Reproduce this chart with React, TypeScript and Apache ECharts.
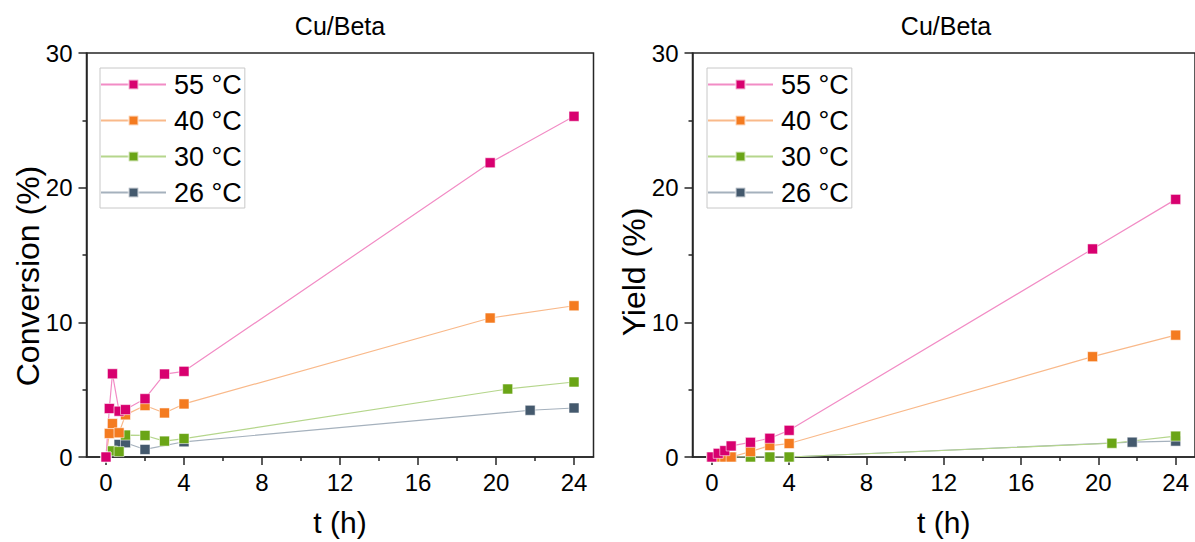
import React, { useEffect, useRef } from "react";
import * as echarts from "echarts";

// ---------- Data ----------
const seriesNames = ["55 °C", "40 °C", "30 °C", "26 °C"];
const markerColors = ["#d8006f", "#f47b20", "#6aa516", "#44596d"];
const lineColors = ["#f28cc5", "#f9b98a", "#b5d68c", "#a5b1bd"];

const xMajorTicks = [0, 4, 8, 12, 16, 20, 24];
const xMinorTicks = [2, 6, 10, 14, 18, 22];

// Conversion (%) vs t (h)
const conv55: [number, number][] = [[0, 0], [0.17, 3.6], [0.33, 6.18], [0.67, 3.4], [1, 3.52], [2, 4.33], [3, 6.16], [4, 6.36], [19.7, 21.85], [24, 25.3]];
const conv40: [number, number][] = [[0, 0], [0.17, 1.75], [0.33, 2.48], [0.67, 1.8], [1, 3.13], [2, 3.82], [3, 3.27], [4, 3.94], [19.7, 10.32], [24, 11.23]];
const conv30: [number, number][] = [[0, 0], [0.33, 0.45], [0.67, 0.4], [1, 1.63], [2, 1.6], [3, 1.18], [4, 1.37], [20.6, 5.05], [24, 5.57]];
const conv26: [number, number][] = [[0, 0], [0.67, 0.93], [1, 1.06], [2, 0.56], [4, 1.13], [21.75, 3.47], [24, 3.64]];

// Yield (%) vs t (h)
const yield55: [number, number][] = [[0, 0], [0.33, 0.27], [0.67, 0.47], [1, 0.82], [2, 1.09], [3, 1.39], [4, 1.98], [19.7, 15.45], [24, 19.13]];
const yield40: [number, number][] = [[0, 0], [0.33, 0], [0.67, 0], [1, 0], [2, 0.4], [3, 0.85], [4, 1.0], [19.7, 7.45], [24, 9.05]];
const yield30: [number, number][] = [[0, 0], [1, 0], [2, 0], [3, 0], [4, 0], [20.7, 1.02], [24, 1.55]];
const yield26: [number, number][] = [[0, 0], [1, 0], [2, 0], [3, 0], [4, 0], [21.75, 1.1], [24, 1.18]];

const convData = [conv55, conv40, conv30, conv26];
const yieldData = [yield55, yield40, yield30, yield26];

const FONT = "'Liberation Sans', Arial, sans-serif";
const AXIS_COLOR = "#262626";

function xAxes(gridIndex: number) {
  return [
    {
      type: "value",
      gridIndex,
      min: -1,
      max: 25,
      position: "bottom",
      axisLine: { show: true, onZero: false, lineStyle: { color: AXIS_COLOR, width: 1.5 } },
      axisTick: { show: true, inside: false, length: 8, customValues: xMajorTicks, lineStyle: { color: AXIS_COLOR, width: 1.5 } },
      axisLabel: { show: true, customValues: xMajorTicks, fontSize: 24, margin: 13, color: "#000", fontFamily: FONT },
      splitLine: { show: false },
      name: "t (h)",
      nameLocation: "middle",
      nameGap: 50,
      nameTextStyle: { fontSize: 30, color: "#000", fontFamily: FONT },
    },
    {
      type: "value",
      gridIndex,
      min: -1,
      max: 25,
      position: "bottom",
      axisLine: { show: false, onZero: false },
      axisTick: { show: true, inside: false, length: 4, customValues: xMinorTicks, lineStyle: { color: AXIS_COLOR, width: 1.5 } },
      axisLabel: { show: false },
      splitLine: { show: false },
    },
  ];
}

function yAxis(gridIndex: number) {
  return {
    type: "value",
    gridIndex,
    min: 0,
    max: 30,
    interval: 10,
    axisLine: { show: true, onZero: false, lineStyle: { color: AXIS_COLOR, width: 1.5 } },
    axisTick: { show: true, inside: false, length: 8, lineStyle: { color: AXIS_COLOR, width: 1.5 } },
    minorTick: { show: true, splitNumber: 2, length: 4, lineStyle: { color: AXIS_COLOR, width: 1.5 } },
    axisLabel: { fontSize: 24, margin: 14, color: "#000", fontFamily: FONT },
    splitLine: { show: false },
    minorSplitLine: { show: false },
  };
}

function makeSeries(datasets: [number, number][][], xAxisIndex: number, yAxisIndex: number) {
  const out: any[] = [];
  // draw 26 first so 55 is on top
  for (let i = datasets.length - 1; i >= 0; i--) {
    out.push({
      type: "line",
      name: seriesNames[i],
      xAxisIndex,
      yAxisIndex,
      data: datasets[i],
      symbol: "rect",
      symbolSize: 10,
      showAllSymbol: true,
      lineStyle: { color: lineColors[i], width: 1.2 },
      itemStyle: { color: markerColors[i], borderColor: "rgba(255,255,255,0.55)", borderWidth: 1 },
      emphasis: { disabled: true },
    });
  }
  return out;
}

function legend(left: number) {
  return {
    left,
    top: 68,
    orient: "vertical",
    data: seriesNames,
    padding: [3, 3, 2, 0],
    itemGap: 9,
    itemWidth: 65,
    itemHeight: 12,
    borderColor: "#c8c8c8",
    borderWidth: 1,
    selectedMode: false,
    textStyle: { fontSize: 27, color: "#000", fontFamily: FONT, padding: [0, 0, 0, 3] },
  };
}

function rotatedText(text: string, x: number, y: number) {
  return {
    type: "text",
    x,
    y,
    rotation: Math.PI / 2,
    style: { text, fontSize: 32, fontFamily: FONT, fill: "#000", align: "center", verticalAlign: "middle" },
  };
}

export default function App() {
  const ref = useRef<HTMLDivElement>(null);
  useEffect(() => {
    document.body.style.margin = "0";
    if (!ref.current) return;
    const chart = echarts.init(ref.current, null, { renderer: "svg" });
    chart.setOption({
      animation: false,
      backgroundColor: "#fff",
      grid: [
        { left: 86.5, top: 53, width: 507, height: 406, show: true, borderColor: AXIS_COLOR, borderWidth: 1.5, backgroundColor: "transparent" },
        { left: 692.5, top: 53, width: 507, height: 404, show: true, borderColor: AXIS_COLOR, borderWidth: 1.5, backgroundColor: "transparent" },
      ],
      xAxis: [...xAxes(0), ...xAxes(1)],
      yAxis: [yAxis(0), yAxis(1)],
      legend: [legend(100), legend(707)],
      graphic: [
        { type: "text", x: 340, y: 26, style: { text: "Cu/Beta", fontSize: 25, fontFamily: FONT, fill: "#000", align: "center", verticalAlign: "middle" } },
        { type: "text", x: 946, y: 26, style: { text: "Cu/Beta", fontSize: 25, fontFamily: FONT, fill: "#000", align: "center", verticalAlign: "middle" } },
        rotatedText("Conversion (%)", 28, 276),
        rotatedText("Yield (%)", 634, 272),
      ],
      series: [...makeSeries(convData, 0, 0), ...makeSeries(yieldData, 2, 1)],
    });
    return () => chart.dispose();
  }, []);
  return <div ref={ref} style={{ width: 1195, height: 542 }} />;
}
